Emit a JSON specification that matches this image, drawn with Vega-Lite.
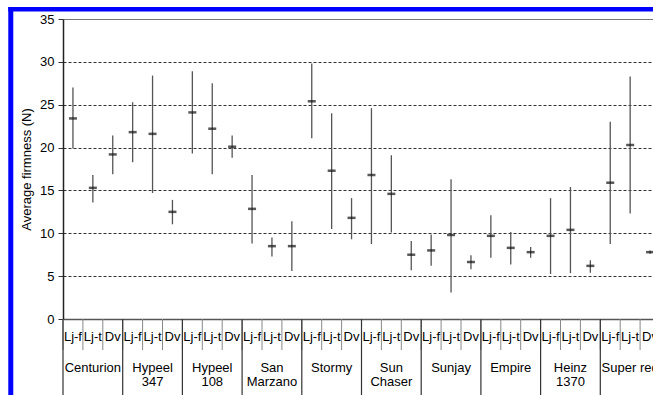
{
  "$schema": "https://vega.github.io/schema/vega-lite/v6.json",
  "width": 590,
  "height": 300,
  "autosize": {"type": "none"},
  "padding": {"left": 63, "top": 19, "right": 0, "bottom": 76},
  "background": "white",
  "config": {
    "view": {"stroke": null},
    "font": "Liberation Sans",
    "axis": {"labelFont": "Liberation Sans", "titleFont": "Liberation Sans"},
    "text": {"font": "Liberation Sans"}
  },
  "layer": [
    {
      "data": {
        "values": [
          {"cultivar": "Centurion", "method": "Lj-f", "mean": 23.4, "min": 19.9, "max": 27.0},
          {"cultivar": "Centurion", "method": "Lj-t", "mean": 15.3, "min": 13.6, "max": 16.8},
          {"cultivar": "Centurion", "method": "Dv", "mean": 19.2, "min": 16.9, "max": 21.4},
          {"cultivar": "Hypeel\n347", "method": "Lj-f", "mean": 21.8, "min": 18.3, "max": 25.3},
          {"cultivar": "Hypeel\n347", "method": "Lj-t", "mean": 21.6, "min": 14.7, "max": 28.4},
          {"cultivar": "Hypeel\n347", "method": "Dv", "mean": 12.5, "min": 11.05, "max": 13.9},
          {"cultivar": "Hypeel\n108", "method": "Lj-f", "mean": 24.1, "min": 19.3, "max": 28.9},
          {"cultivar": "Hypeel\n108", "method": "Lj-t", "mean": 22.2, "min": 16.9, "max": 27.5},
          {"cultivar": "Hypeel\n108", "method": "Dv", "mean": 20.1, "min": 18.8, "max": 21.4},
          {"cultivar": "San\nMarzano", "method": "Lj-f", "mean": 12.85, "min": 8.8, "max": 16.8},
          {"cultivar": "San\nMarzano", "method": "Lj-t", "mean": 8.5, "min": 7.3, "max": 9.5},
          {"cultivar": "San\nMarzano", "method": "Dv", "mean": 8.5, "min": 5.6, "max": 11.4},
          {"cultivar": "Stormy", "method": "Lj-f", "mean": 25.4, "min": 21.1, "max": 29.8},
          {"cultivar": "Stormy", "method": "Lj-t", "mean": 17.3, "min": 10.5, "max": 24.0},
          {"cultivar": "Stormy", "method": "Dv", "mean": 11.8, "min": 9.3, "max": 14.1},
          {"cultivar": "Sun\nChaser", "method": "Lj-f", "mean": 16.8, "min": 8.75, "max": 24.6},
          {"cultivar": "Sun\nChaser", "method": "Lj-t", "mean": 14.6, "min": 10.1, "max": 19.1},
          {"cultivar": "Sun\nChaser", "method": "Dv", "mean": 7.5, "min": 5.7, "max": 9.1},
          {"cultivar": "Sunjay", "method": "Lj-f", "mean": 8.0, "min": 6.2, "max": 9.85},
          {"cultivar": "Sunjay", "method": "Lj-t", "mean": 9.8, "min": 3.1, "max": 16.3},
          {"cultivar": "Sunjay", "method": "Dv", "mean": 6.65, "min": 5.8, "max": 7.45},
          {"cultivar": "Empire", "method": "Lj-f", "mean": 9.7, "min": 7.15, "max": 12.1},
          {"cultivar": "Empire", "method": "Lj-t", "mean": 8.3, "min": 6.35, "max": 10.15},
          {"cultivar": "Empire", "method": "Dv", "mean": 7.8, "min": 7.15, "max": 8.4},
          {"cultivar": "Heinz\n1370", "method": "Lj-f", "mean": 9.7, "min": 5.25, "max": 14.1},
          {"cultivar": "Heinz\n1370", "method": "Lj-t", "mean": 10.4, "min": 5.35, "max": 15.4},
          {"cultivar": "Heinz\n1370", "method": "Dv", "mean": 6.2, "min": 5.4, "max": 6.85},
          {"cultivar": "Super red", "method": "Lj-f", "mean": 15.9, "min": 8.75, "max": 23.0},
          {"cultivar": "Super red", "method": "Lj-t", "mean": 20.3, "min": 12.3, "max": 28.3},
          {"cultivar": "Super red", "method": "Dv", "mean": 7.8, "min": 7.6, "max": 8.0}
        ]
      },
      "transform": [{"calculate": "datum.cultivar + '|' + datum.method", "as": "key"}],
      "layer": [
        {
          "mark": {"type": "rule", "color": "#555", "strokeWidth": 1.3},
          "encoding": {
            "x": {
              "field": "key", "type": "nominal", "sort": null,
              "scale": {"range": [0, 597], "paddingInner": 0, "paddingOuter": 0},
              "axis": {"labels": false, "ticks": false, "title": null, "grid": false, "domainColor": "#555", "domainWidth": 1.5}
            },
            "y": {
              "field": "min", "type": "quantitative",
              "scale": {"domain": [0, 35], "nice": false, "zero": true},
              "axis": {
                "title": "Average firmness (N)",
                "values": [0, 5, 10, 15, 20, 25, 30, 35],
                "grid": true,
                "gridDash": {"condition": {"test": "datum.value == 35", "value": []}, "value": [3, 2]},
                "gridColor": {"condition": {"test": "datum.value == 35", "value": "#777"}, "value": "#333"},
                "gridOpacity": {"condition": {"test": "datum.value == 0", "value": 0}, "value": 1},
                "gridWidth": 1,
                "labelFontSize": 13,
                "labelColor": "#000",
                "labelPadding": 4,
                "tickSize": 5,
                "tickColor": "#333",
                "domainColor": "#222",
                "domainWidth": 1.5,
                "titleFontSize": 13,
                "titleFontWeight": "normal",
                "titleColor": "#000",
                "titlePadding": 6
              }
            },
            "y2": {"field": "max"}
          }
        },
        {
          "mark": {"type": "tick", "orient": "horizontal", "color": "#111", "size": 8, "thickness": 2.5},
          "encoding": {
            "x": {"field": "key", "type": "nominal", "sort": null},
            "y": {"field": "mean", "type": "quantitative"}
          }
        },
        {
          "mark": {"type": "rule", "color": "#888", "strokeWidth": 1},
          "encoding": {
            "x": {"field": "key", "type": "nominal", "sort": null, "bandPosition": 0},
            "y": {"datum": 0},
            "y2": {"datum": -3.62}
          }
        },
        {
          "mark": {"type": "rule", "color": "#333", "strokeWidth": 1.2},
          "encoding": {
            "x": {"field": "key", "type": "nominal", "sort": null, "bandPosition": 0},
            "y": {"datum": 0},
            "y2": {"datum": -9.2},
            "opacity": {"condition": {"test": "datum.method == 'Lj-f'", "value": 1}, "value": 0}
          }
        },
        {
          "mark": {"type": "text", "fontSize": 13, "baseline": "middle", "align": "center", "color": "#000"},
          "encoding": {
            "x": {"field": "key", "type": "nominal", "sort": null},
            "y": {"datum": -2.1},
            "text": {"field": "method"}
          }
        },
        {
          "mark": {"type": "text", "fontSize": 13, "baseline": "top", "align": "center", "color": "#000", "lineBreak": "\n", "lineHeight": 14},
          "encoding": {
            "x": {"field": "key", "type": "nominal", "sort": null},
            "y": {"datum": -5.02},
            "text": {"condition": {"test": "datum.method == 'Lj-t'", "field": "cultivar"}, "value": ""}
          }
        }
      ]
    },
    {
      "data": {"values": [{}]},
      "layer": [
        {
          "mark": {"type": "rule", "color": "#0000ff", "strokeWidth": 5},
          "encoding": {
            "x": {"datum": -0.0885, "type": "quantitative", "scale": {"domain": [0, 1]}, "axis": null},
            "y": {"datum": 36.41, "type": "quantitative", "scale": {"domain": [0, 35]}},
            "y2": {"datum": -9.3}
          }
        },
        {
          "mark": {"type": "rule", "color": "#0000ff", "strokeWidth": 4.5},
          "encoding": {
            "x": {"datum": -0.0927, "type": "quantitative", "scale": {"domain": [0, 1]}, "axis": null},
            "x2": {"datum": 1.05},
            "y": {"datum": 36.14, "type": "quantitative", "scale": {"domain": [0, 35]}}
          }
        }
      ]
    }
  ],
  "resolve": {"scale": {"x": "independent"}}
}
